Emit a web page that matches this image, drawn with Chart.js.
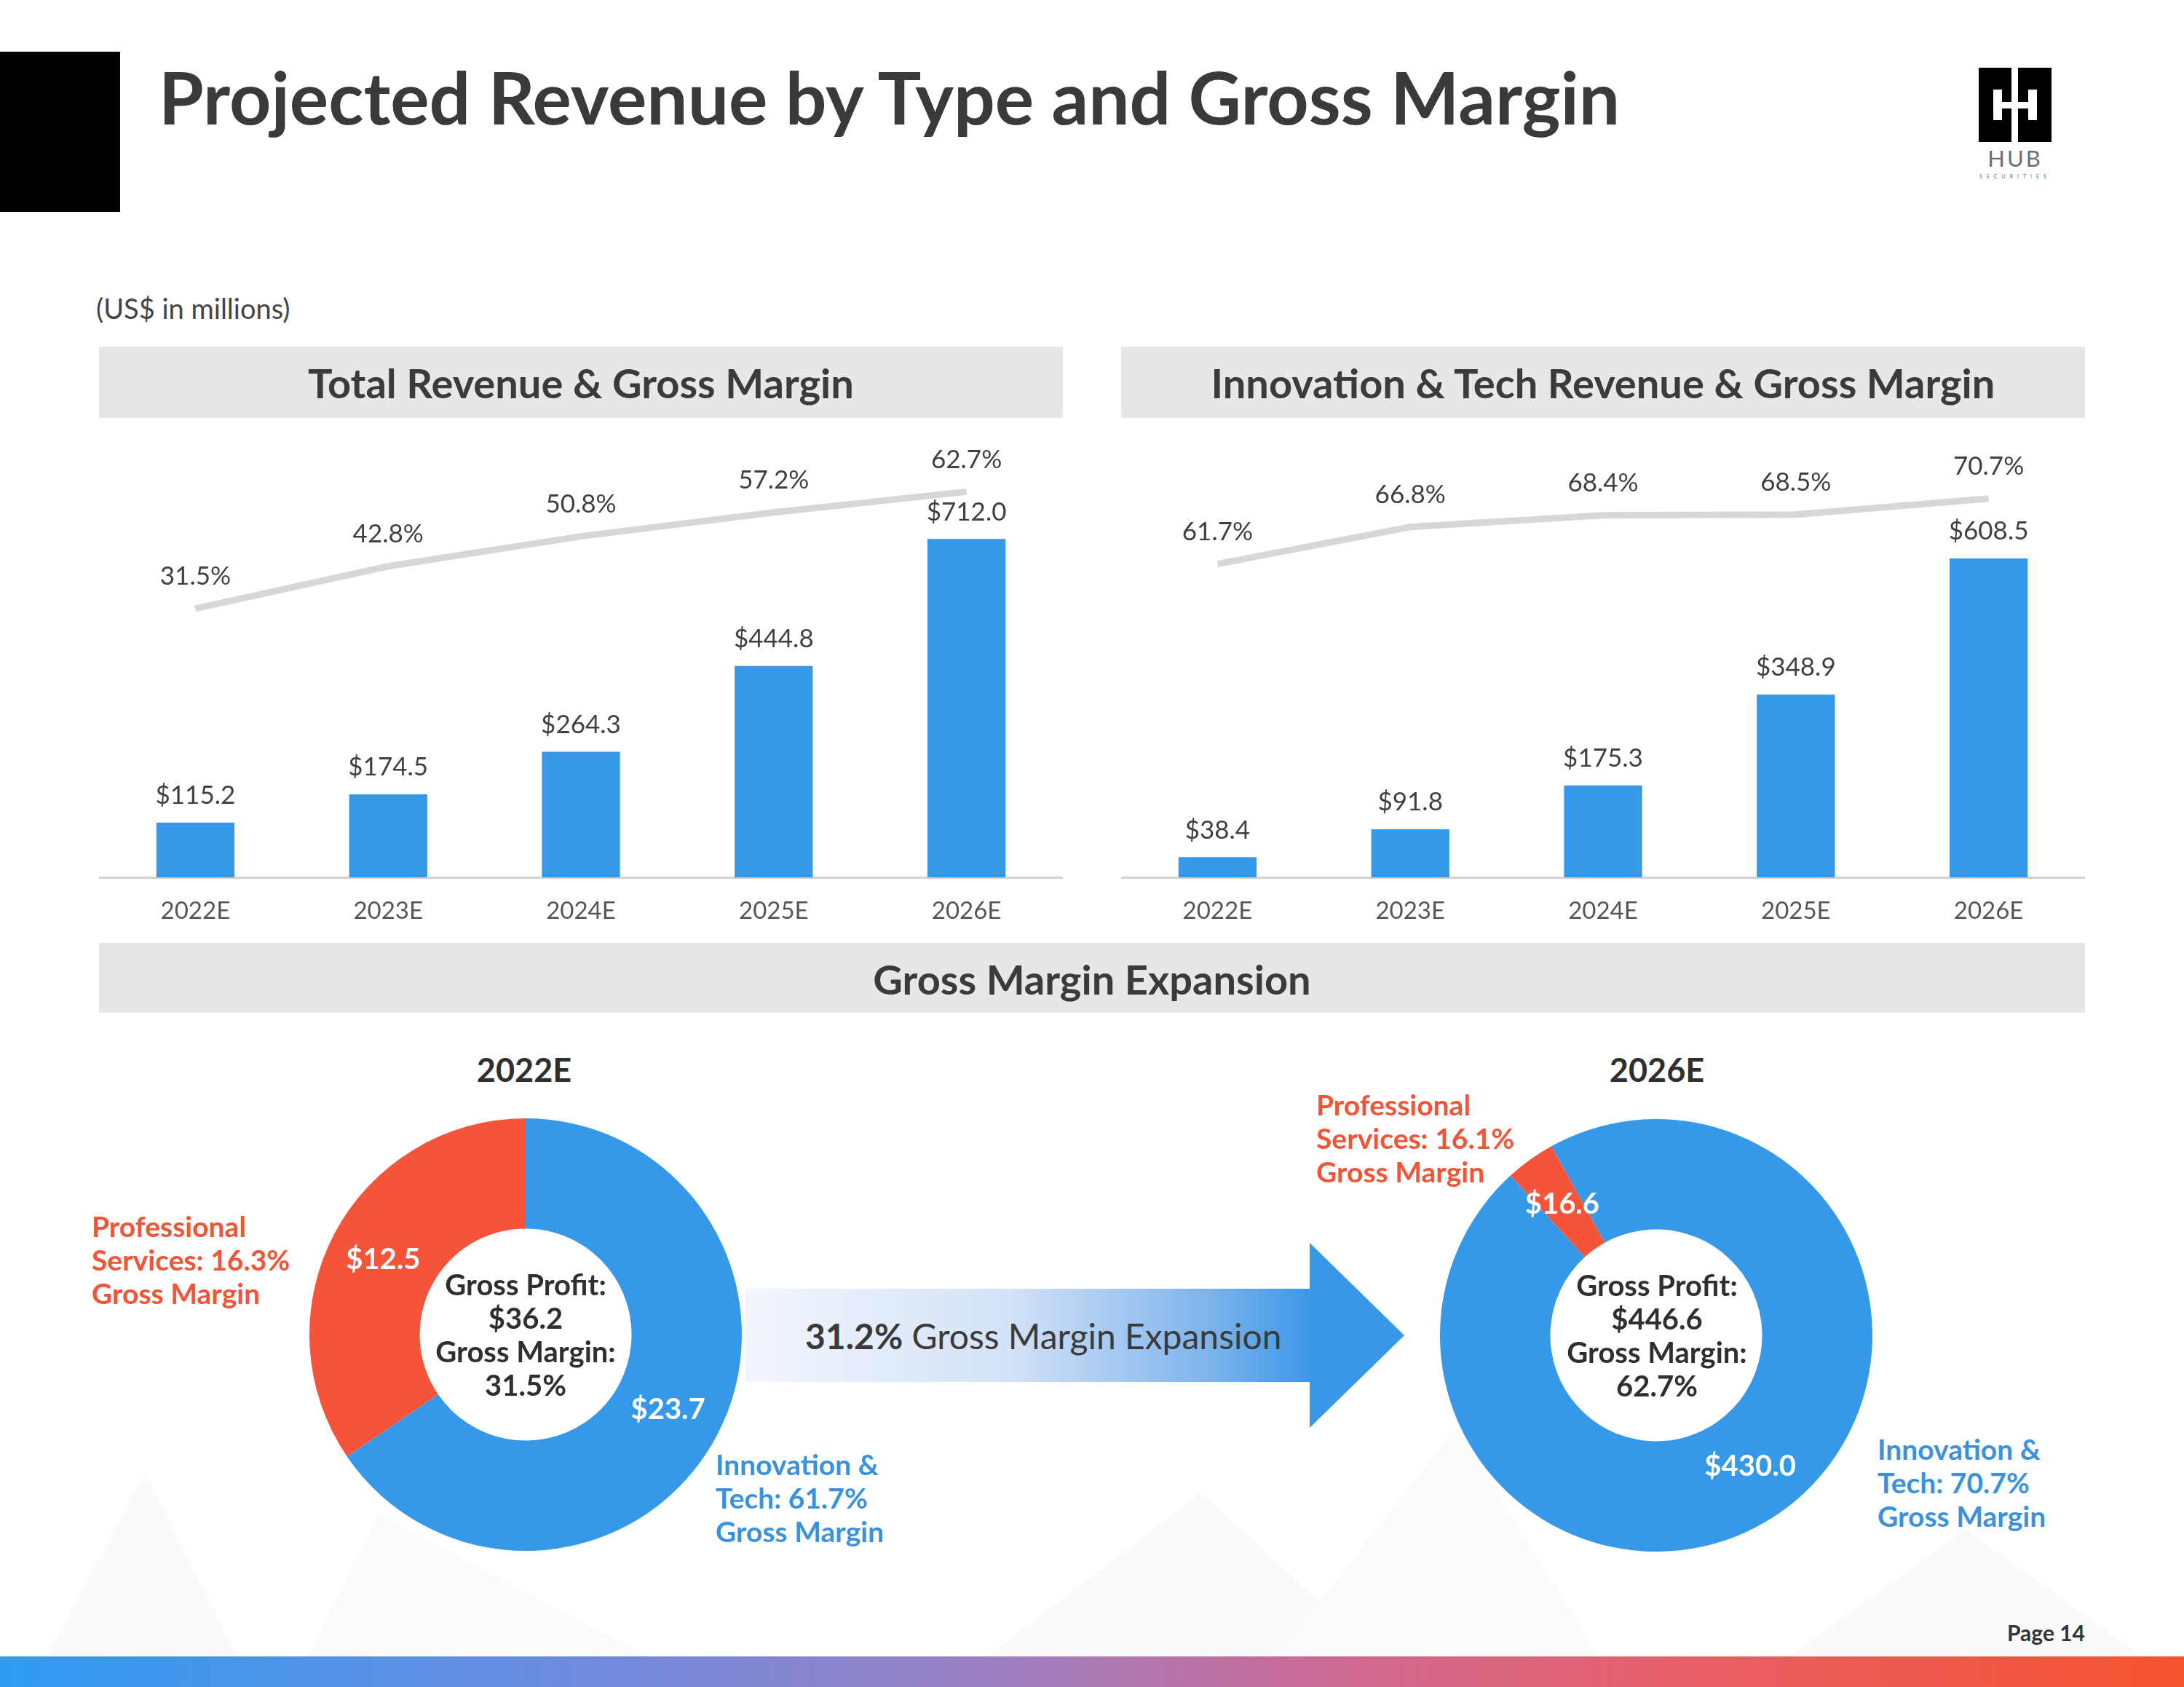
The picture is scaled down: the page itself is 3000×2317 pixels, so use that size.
<!DOCTYPE html>
<html>
<head>
<meta charset="utf-8">
<script src="https://cdn.jsdelivr.net/npm/chart.js@4.4.0/dist/chart.umd.min.js"></script>
<style>
  html, body { margin: 0; padding: 0; background: #fff; }
  #page { position: relative; width: 3000px; height: 2317px; overflow: hidden; font-family: Lato, "Open Sans", sans-serif; color: #3b3b3b; }
  .abs { position: absolute; }
  .hdr { position: absolute; background: #e7e7e7; }
  canvas { position: absolute; }
</style>
</head>
<body>
<div id="page">
  <svg class="abs" style="left:0;top:1900px" width="3000" height="380">
    <polygon points="60,380 200,120 330,380" fill="#fafafa"/>
    <polygon points="420,380 520,180 900,380" fill="#fbfbfb"/>
    <polygon points="1350,380 1650,150 1900,380" fill="#fafafa"/>
    <polygon points="1750,380 2000,60 2200,380" fill="#fbfbfb"/>
    <polygon points="2450,380 2700,200 2950,380" fill="#fafafa"/>
  </svg>
  <div class="abs" style="left:0;top:71px;width:165px;height:220px;background:#000"></div>

  <!-- logo -->
  <div class="abs" style="left:2718px;top:93px;width:45px;height:102px;background:#000"></div>
  <div class="abs" style="left:2772px;top:93px;width:46px;height:102px;background:#000"></div>
  <div class="abs" style="left:2738px;top:123px;width:12px;height:42px;background:#fff"></div>
  <div class="abs" style="left:2786px;top:123px;width:12px;height:42px;background:#fff"></div>
  <div class="abs" style="left:2738px;top:140px;width:60px;height:9px;background:#fff"></div>

  <div class="hdr" style="left:136px;top:476px;width:1324px;height:98px"></div>
  <div class="hdr" style="left:1540px;top:476px;width:1324px;height:98px"></div>
  <div class="hdr" style="left:136px;top:1295px;width:2728px;height:96px"></div>

  <div class="abs" style="left:1024px;top:1707px;width:905px;height:254px;
       background:linear-gradient(to right,#f3f6fd 0%,#d3e2f7 40%,#7fb4ec 70%,#3a96e7 86%,#3a96e7 100%);
       clip-path:polygon(0 63px,775px 63px,775px 0,905px 127px,775px 254px,775px 191px,0 191px)"></div>

  <div class="abs" style="left:0;top:2275px;width:3000px;height:42px;
       background:linear-gradient(to right,#2e9cf2 0%,#6b8ce0 25%,#9a80c2 45%,#d06991 62%,#e95e66 78%,#f5542f 100%)"></div>

  <canvas id="totalChart" width="1324" height="702" style="left:136px;top:593px"></canvas>
  <canvas id="techChart" width="1324" height="702" style="left:1540px;top:593px"></canvas>
  <canvas id="donut2022" width="594" height="594" style="left:425px;top:1536px"></canvas>
  <canvas id="donut2026" width="594" height="594" style="left:1978px;top:1537px"></canvas>
</div>
<script>
// values (US$ in millions)
var years = ["2022E", "2023E", "2024E", "2025E", "2026E"];
var totalRevenue = [115.2, 174.5, 264.3, 444.8, 712.0];
var totalMargin = [31.5, 42.8, 50.8, 57.2, 62.7];
var techRevenue = [38.4, 91.8, 175.3, 348.9, 608.5];
var techMargin = [61.7, 66.8, 68.4, 68.5, 70.7];

var segments = ["Innovation & Tech", "Professional Services"];
var profit2022 = [23.7, 12.5];
var profit2026 = [430.0, 16.6];
var segMargin2022 = [61.7, 16.3];
var segMargin2026 = [70.7, 16.1];
var grossProfit = [36.2, 446.6];
var grossMargin = [31.5, 62.7];
var marginExpansion = 31.2;

var blue = "#3598e8";
var red = "#f4553a";
var lineGray = "#d7d7d7";

var page = document.getElementById("page");

// text helper: x is left / center / right per align, y is vertical middle
function txt(html, x, y, size, o) {
  o = o || {};
  var d = document.createElement("div");
  d.innerHTML = html;
  d.style.position = "absolute";
  d.style.whiteSpace = "nowrap";
  d.style.fontSize = size + "px";
  d.style.lineHeight = (o.lh || size) + "px";
  d.style.fontWeight = o.bold ? "700" : "400";
  d.style.color = o.color || "#3b3b3b";
  d.style.top = y + "px";
  d.style.textAlign = o.align || "left";
  if (o.letter) d.style.letterSpacing = o.letter;
  var tx = "0";
  if (o.align === "center") tx = "-50%";
  if (o.align === "right") tx = "-100%";
  d.style.left = x + "px";
  d.style.transform = "translate(" + tx + ",-50%)";
  page.appendChild(d);
  return d;
}

txt("Projected Revenue by Type and Gross Margin", 218, 132, 100, {bold: true, color: "#3a3a3a"});
txt("HUB", 2768, 217, 31, {align: "center", color: "#6e6e6e", letter: "3px"});
txt("SECURITIES", 2768, 242, 7, {align: "center", color: "#6e6e6e", letter: "6px"});
txt("(US$ in millions)", 132, 423, 38, {color: "#444"});
txt("Total Revenue &amp; Gross Margin", 798, 526, 56, {bold: true, align: "center"});
txt("Innovation &amp; Tech Revenue &amp; Gross Margin", 2202, 526, 56, {bold: true, align: "center"});
txt("Gross Margin Expansion", 1500, 1345, 56, {bold: true, align: "center"});
txt(years[0], 720, 1469, 45, {bold: true, align: "center", color: "#2f2f2f"});
txt(years[4], 2276, 1469, 45, {bold: true, align: "center", color: "#2f2f2f"});

function sideLabel(name, pct, x, y, color) {
  var parts = name === "Professional Services"
    ? ["Professional", "Services: " + pct.toFixed(1) + "%", "Gross Margin"]
    : ["Innovation &amp;", "Tech: " + pct.toFixed(1) + "%", "Gross Margin"];
  txt(parts.join("<br>"), x, y, 39, {bold: true, lh: 46, color: color});
}
sideLabel(segments[1], segMargin2022[1], 126, 1730, "#ef5536");
sideLabel(segments[0], segMargin2022[0], 983, 2057, "#3a92de");
sideLabel(segments[1], segMargin2026[1], 1808, 1563, "#ef5536");
sideLabel(segments[0], segMargin2026[0], 2579, 2036, "#3a92de");

function centerLabel(i, x, y) {
  txt("Gross Profit:<br>$" + grossProfit[i].toFixed(1) + "<br>Gross Margin:<br>" + grossMargin[i].toFixed(1) + "%",
      x, y, 40, {bold: true, lh: 46, align: "center", color: "#2f2f2f"});
}
centerLabel(0, 722, 1833);
centerLabel(1, 2276, 1834);

txt("<b>" + marginExpansion.toFixed(1) + "%</b> Gross Margin Expansion", 1106, 1835, 48, {color: "#3a3a3a"});
txt("Page 14", 2864, 2242, 30, {bold: true, align: "right", color: "#333"});

// draws value labels above bars and line points
var valueLabels = {
  id: "valueLabels",
  afterDatasetsDraw: function(chart) {
    var ctx = chart.ctx;
    ctx.save();
    ctx.textAlign = "center";
    ctx.textBaseline = "middle";
    ctx.fillStyle = "#404040";
    ctx.font = "35px Lato";
    chart.data.datasets.forEach(function(ds, i) {
      var meta = chart.getDatasetMeta(i);
      meta.data.forEach(function(el, j) {
        var v = ds.data[j];
        if (ds.type === "line") {
          ctx.fillText(v.toFixed(1) + "%", el.x, el.y - 44);
        } else {
          ctx.fillText("$" + v.toFixed(1), el.x, el.y - 37);
        }
      });
    });
    ctx.restore();
  }
};

function revenueChart(id, revenue, margin, barMax, lineMin, lineMax) {
  new Chart(document.getElementById(id), {
    type: "bar",
    data: {
      labels: years,
      datasets: [{
        type: "line",
        data: margin,
        yAxisID: "y2",
        borderColor: lineGray,
        borderWidth: 9,
        pointRadius: 0,
        tension: 0,
        order: 0
      }, {
        type: "bar",
        data: revenue,
        yAxisID: "y",
        backgroundColor: blue,
        barPercentage: 0.405,
        categoryPercentage: 1,
        order: 1
      }]
    },
    options: {
      responsive: false,
      animation: false,
      events: [],
      layout: {padding: 0, autoPadding: false},
      plugins: {legend: {display: false}, tooltip: {enabled: false}},
      scales: {
        x: {
          grid: {display: true, color: "rgba(0,0,0,0)", drawTicks: false},
          border: {display: true, color: "#d3d3d3", width: 3},
          ticks: {color: "#555", font: {family: "Lato", size: 33}, padding: 27},
          afterFit: function(axis) { axis.height = 90; }
        },
        y: {display: false, min: 0, max: barMax},
        y2: {display: false, min: lineMin, max: lineMax}
      }
    },
    plugins: [valueLabels]
  });
}

revenueChart("totalChart", totalRevenue, totalMargin, 937.6, -40.2, 78.7);
revenueChart("techChart", techRevenue, techMargin, 850.3, 18.6, 79.9);

// white $ labels inside the donut segments
var arcLabels = {
  id: "arcLabels",
  afterDatasetsDraw: function(chart) {
    var ctx = chart.ctx;
    var ds = chart.data.datasets[0];
    ctx.save();
    ctx.textAlign = "center";
    ctx.textBaseline = "middle";
    ctx.fillStyle = "#fff";
    ctx.font = "bold 40px Lato";
    chart.getDatasetMeta(0).data.forEach(function(arc, j) {
      var p = arc.tooltipPosition();
      ctx.fillText("$" + ds.data[j].toFixed(1), p.x, p.y);
    });
    ctx.restore();
  }
};

function donut(id, values, rotation) {
  new Chart(document.getElementById(id), {
    type: "doughnut",
    data: {
      labels: segments,
      datasets: [{
        data: values,
        backgroundColor: [blue, red],
        borderWidth: 0
      }]
    },
    options: {
      responsive: false,
      animation: false,
      events: [],
      cutout: "49%",
      rotation: rotation,
      layout: {padding: 0},
      plugins: {legend: {display: false}, tooltip: {enabled: false}}
    },
    plugins: [arcLabels]
  });
}

donut("donut2022", profit2022, 0);
donut("donut2026", profit2026, -29);
</script>
</body>
</html>
